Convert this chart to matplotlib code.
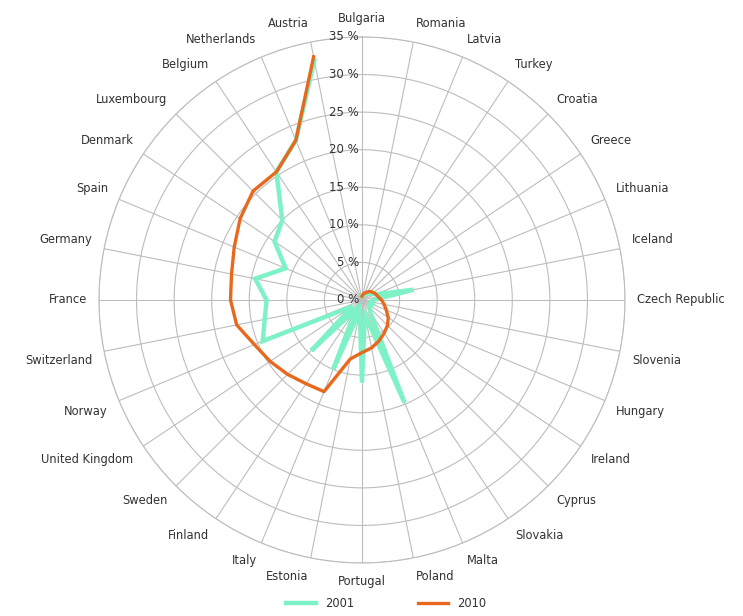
import numpy as np
import matplotlib
matplotlib.use("Agg")
import matplotlib.pyplot as plt
import matplotlib.transforms as mtransforms
from matplotlib.lines import Line2D

countries = ["Bulgaria", "Romania", "Latvia", "Turkey", "Croatia", "Greece",
             "Lithuania", "Iceland", "Czech Republic", "Slovenia", "Hungary",
             "Ireland", "Cyprus", "Slovakia", "Malta", "Poland", "Portugal",
             "Estonia", "Italy", "Finland", "Sweden", "United Kingdom",
             "Norway", "Switzerland", "France", "Germany", "Spain", "Denmark",
             "Luxembourg", "Belgium", "Netherlands", "Austria"]

# share in %
v2001 = [0.5, 0.5, 0.8, 1.0, 1.2, 1.5, 2.0, 7.0, 1.5, 1.2, 1.5, 1.2, 1.5,
         2.0, 14.8, 2.0, 11.0, 1.5, 10.0, 1.5, 9.5, 1.5, 14.3, 13.2, 12.7,
         14.5, 11.0, 14.0, 15.0, 20.5, 23.0, 32.5]
v2010 = [0.5, 0.8, 1.0, 1.3, 1.6, 1.8, 2.0, 2.2, 2.6, 3.0, 3.5, 4.2, 4.8,
         5.3, 5.9, 6.5, 7.0, 8.0, 13.2, 13.4, 14.0, 14.7, 15.5, 17.0, 17.5,
         17.7, 18.4, 19.5, 20.5, 20.5, 23.0, 33.0]
rticks = [0, 5, 10, 15, 20, 25, 30, 35]

green = "#7DF2C6"
orange = "#E8681E"
gridc = "#bdbdbd"
textc = "#333333"

fig = plt.figure(figsize=(7.43, 6.16), dpi=100)
ax = fig.add_axes([0.1332, 0.086, 0.708, 0.854], projection="polar")
ax.set_theta_zero_location("N")
ax.set_theta_direction(-1)

n = len(countries)
theta = np.arange(n) * 2 * np.pi / n

ax.plot(theta, v2001, color=green, lw=3.2, solid_joinstyle="miter", zorder=3)
ax.plot(theta, v2010, color=orange, lw=2.4, zorder=4)

ax.set_ylim(0, 35)
ax.set_xticks(theta)
ax.set_xticklabels([])
ax.set_yticks(rticks[1:])
ax.set_yticklabels([])
ax.grid(True, color=gridc, lw=0.8)
ax.spines["polar"].set_color(gridc)
ax.spines["polar"].set_linewidth(0.8)
ax.tick_params(length=0)

# radial labels along the top spoke
off = mtransforms.offset_copy(ax.transData, fig=fig, x=-3, y=0, units="dots")
for r in rticks:
    ax.text(0, r, f"{r} %", transform=off, ha="right", va="center",
            fontsize=8.5, color=textc, zorder=5)

# country labels round the outside
for t, name in zip(theta, countries):
    s, c = np.sin(t), np.cos(t)
    ha = "left" if s > 0.15 else ("right" if s < -0.15 else "center")
    va = "bottom" if c > 0.15 else ("top" if c < -0.15 else "center")
    ax.text(t, 36.6, name, ha=ha, va=va, fontsize=8.3, color=textc,
            clip_on=False)

handles = [Line2D([], [], color=green, lw=3.2),
           Line2D([], [], color=orange, lw=2.4)]
fig.legend(handles, ["2001", "2010"], loc="center", ncol=2,
           bbox_to_anchor=(0.52, 0.02), frameon=False, fontsize=8.3,
           handlelength=2.6, columnspacing=5.5, labelcolor=textc)

fig.savefig("out.png", dpi=100)
